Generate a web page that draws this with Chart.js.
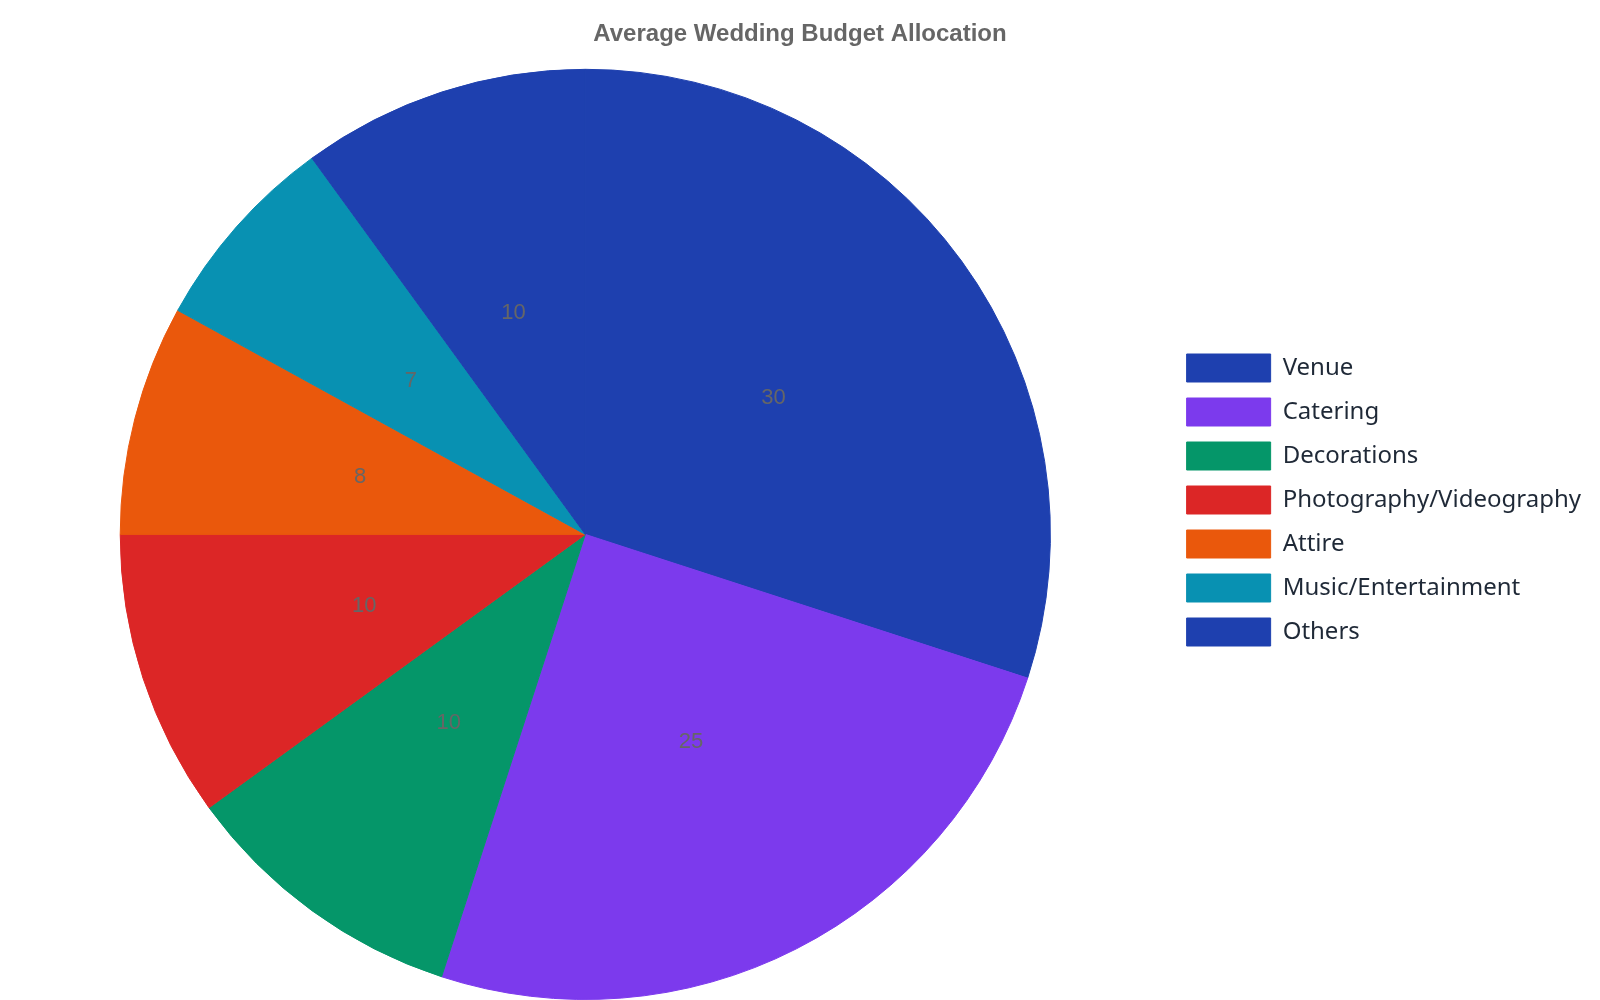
<!DOCTYPE html>
<html>
<head>
<meta charset="utf-8">
<title>Average Wedding Budget Allocation</title>
<script src="https://cdn.jsdelivr.net/npm/chart.js@4/dist/chart.umd.min.js"></script>
<style>
  html, body { margin: 0; padding: 0; background: #fff; }
  #wrap { width: 1600px; height: 1000px; position: relative; }
</style>
</head>
<body>
<div id="wrap"><canvas id="chart"></canvas></div>
<script>
const categories = ['Venue', 'Catering', 'Decorations', 'Photography/Videography', 'Attire', 'Music/Entertainment', 'Others']
const budgetShare = [30, 25, 10, 10, 8, 7, 10]
const sliceColors = ['#1e40af', '#7c3aed', '#059669', '#dc2626', '#ea580c', '#0891b2', '#1e40af']

// draws the value in the middle of each slice
const sliceLabels = {
  id: 'sliceLabels',
  afterDatasetsDraw(chart) {
    const ctx = chart.ctx
    const meta = chart.getDatasetMeta(0)
    ctx.save()
    ctx.font = '22px "Liberation Sans", Arial, sans-serif'
    ctx.fillStyle = '#666666'
    ctx.textAlign = 'center'
    ctx.textBaseline = 'middle'
    meta.data.forEach((arc, i) => {
      const mid = (arc.startAngle + arc.endAngle) / 2
      const r = arc.outerRadius / 2
      ctx.fillText(String(chart.data.datasets[0].data[i]), arc.x + Math.cos(mid) * r, arc.y + Math.sin(mid) * r)
    })
    ctx.restore()
  }
}

// a little more room on the legend so the pie sits where it should
const legendRoom = {
  id: 'legendRoom',
  beforeInit(chart) {
    const fit = chart.legend.fit
    chart.legend.fit = function () {
      fit.call(this)
      this.width += 9
    }
  }
}

new Chart(document.getElementById('chart').getContext('2d'), {
  type: 'pie',
  data: {
    labels: categories,
    datasets: [{
      data: budgetShare,
      backgroundColor: sliceColors,
      borderColor: sliceColors,
      borderWidth: 1
    }]
  },
  options: {
    responsive: true,
    maintainAspectRatio: false,
    animation: false,
    plugins: {
      title: {
        display: true,
        text: 'Average Wedding Budget Allocation',
        color: '#666666',
        font: { family: '"Liberation Sans", Arial, sans-serif', size: 24, weight: 'bold' },
        padding: { top: 20, bottom: 20 }
      },
      legend: {
        position: 'right',
        labels: {
          boxWidth: 84,
          boxHeight: 28,
          padding: 16,
          color: '#1f2937',
          font: { family: '"Noto Sans", sans-serif', size: 24 }
        }
      },
      tooltip: { enabled: false }
    }
  },
  plugins: [sliceLabels, legendRoom]
})
</script>
</body>
</html>
